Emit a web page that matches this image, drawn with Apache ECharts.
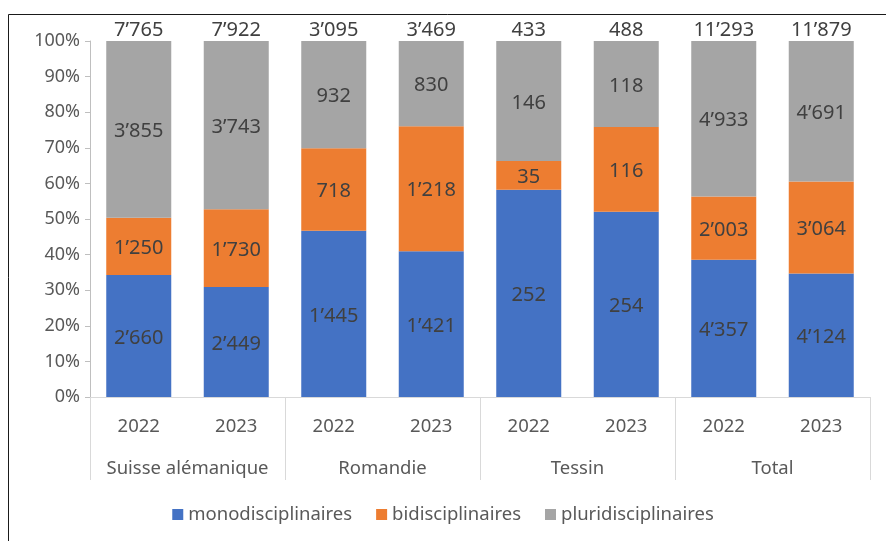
<!DOCTYPE html>
<html>
<head>
<meta charset="utf-8">
<script src="https://cdn.jsdelivr.net/npm/echarts@6/dist/echarts.min.js"></script>
<style>
  html, body { margin: 0; padding: 0; background: #fff; }
  #chart { width: 886px; height: 541px; }
</style>
</head>
<body>
<div id="chart"></div>
<script>
// données
var years = ['2022', '2023', '2022', '2023', '2022', '2023', '2022', '2023']
var regions = ['Suisse alémanique', 'Romandie', 'Tessin', 'Total']
var mono = [2660, 2449, 1445, 1421, 252, 254, 4357, 4124]
var bi = [1250, 1730, 718, 1218, 35, 116, 2003, 3064]
var pluri = [3855, 3743, 932, 830, 146, 118, 4933, 4691]
var yTicks = [0, 10, 20, 30, 40, 50, 60, 70, 80, 90, 100]

var totals = mono.map(function (v, i) { return v + bi[i] + pluri[i] })

function fmt(n) {
  return String(n).replace(/\B(?=(\d{3})+(?!\d))/g, '’')
}
function pct(arr) {
  return arr.map(function (v, i) { return v / totals[i] * 100 })
}

var font = 'Noto Sans'
var textColor = '#404040'

function barSeries(name, raw, color) {
  return {
    name: name,
    type: 'bar',
    stack: 'all',
    barWidth: 65,
    itemStyle: { color: color },
    label: {
      show: true,
      position: 'inside',
      offset: [0, 2],
      color: textColor,
      fontFamily: font,
      fontSize: 20,
      formatter: function (p) { return fmt(raw[p.dataIndex]) }
    },
    data: pct(raw)
  }
}

var chart = echarts.init(document.getElementById('chart'))
chart.setOption({
  animation: false,
  backgroundColor: '#fff',
  textStyle: { fontFamily: font },
  graphic: [
    { type: 'line', shape: { x1: 8.5, y1: 14.5, x2: 886, y2: 14.5 }, style: { stroke: '#1a1a1a', lineWidth: 1 } },
    { type: 'line', shape: { x1: 8.5, y1: 14.5, x2: 8.5, y2: 541 }, style: { stroke: '#1a1a1a', lineWidth: 1 } }
  ],
  grid: { left: 90, right: 16, top: 41, bottom: 144 },
  legend: {
    data: ['monodisciplinaires', 'bidisciplinaires', 'pluridisciplinaires'],
    bottom: 12,
    left: 'center',
    icon: 'rect',
    itemWidth: 11,
    itemHeight: 11,
    itemGap: 24,
    textStyle: { color: '#595959', fontSize: 18.5, fontFamily: font }
  },
  xAxis: [
    {
      type: 'category',
      data: years,
      axisLine: { lineStyle: { color: '#d9d9d9' } },
      axisTick: { show: false },
      axisLabel: { color: '#595959', fontSize: 18.5, margin: 20, interval: 0 }
    },
    {
      type: 'category',
      data: regions,
      position: 'bottom',
      axisLine: { show: false },
      axisTick: { show: true, length: 83, lineStyle: { color: '#d9d9d9' } },
      axisLabel: { color: '#595959', fontSize: 18.5, margin: 62, interval: 0 }
    }
  ],
  yAxis: {
    type: 'value',
    min: yTicks[0],
    max: yTicks[yTicks.length - 1],
    interval: 10,
    axisLine: { show: true, lineStyle: { color: '#bfbfbf' } },
    axisTick: { show: true, length: 5, lineStyle: { color: '#bfbfbf' } },
    splitLine: { show: false },
    axisLabel: { color: '#595959', fontSize: 18, margin: 10, formatter: '{value}%' }
  },
  series: [
    barSeries('monodisciplinaires', mono, '#4472C4'),
    barSeries('bidisciplinaires', bi, '#ED7D31'),
    barSeries('pluridisciplinaires', pluri, '#A5A5A5'),
    {
      name: 'total',
      type: 'bar',
      stack: 'all',
      barWidth: 65,
      itemStyle: { color: 'transparent' },
      label: {
        show: true,
        position: 'top',
        distance: 1,
        color: textColor,
        fontFamily: font,
        fontSize: 20,
        formatter: function (p) { return fmt(totals[p.dataIndex]) }
      },
      data: totals.map(function () { return 0 })
    }
  ]
})
</script>
</body>
</html>
